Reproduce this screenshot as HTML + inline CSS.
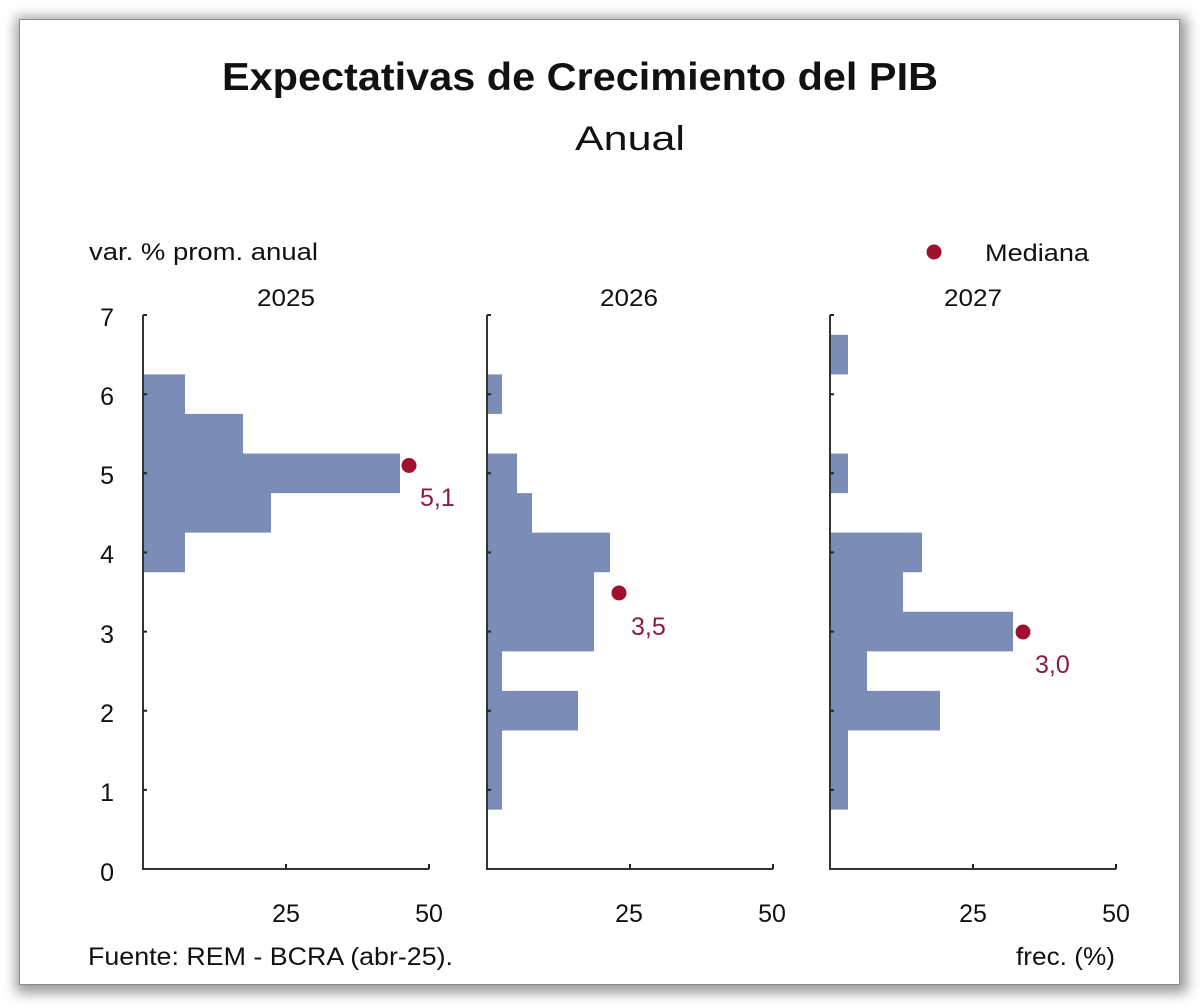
<!DOCTYPE html>
<html>
<head>
<meta charset="utf-8">
<style>
  html, body { margin:0; padding:0; background:#fff; }
  body { width:1200px; height:1007px; overflow:hidden; position:relative; }
  .frame {
    position:absolute; left:19px; top:19px; width:1159px; height:964px;
    background:#fff; border:1px solid #8c8c8c;
    box-shadow: 2px 3px 12px 5px rgba(0,0,0,0.40);
  }
  svg { position:absolute; left:0; top:0; }
  text { font-family:"Liberation Sans", Arial, sans-serif; fill:#111; }
</style>
</head>
<body>
<div class="frame"></div>
<svg width="1200" height="1007" viewBox="0 0 1200 1007" xmlns="http://www.w3.org/2000/svg">
  <!-- Title -->
  <text x="222" y="90" font-size="39" font-weight="bold" textLength="716" lengthAdjust="spacingAndGlyphs">Expectativas de Crecimiento del PIB</text>
  <text x="575" y="150" font-size="34" textLength="110" lengthAdjust="spacingAndGlyphs">Anual</text>

  <!-- Header labels -->
  <text x="89" y="260" font-size="24" textLength="229" lengthAdjust="spacingAndGlyphs">var. % prom. anual</text>
  <circle cx="934" cy="252" r="7.5" fill="#a0102e"/>
  <text x="985" y="261" font-size="24" textLength="104" lengthAdjust="spacingAndGlyphs">Mediana</text>

  <!-- Year labels -->
  <text x="286" y="306" font-size="24" text-anchor="middle" textLength="58" lengthAdjust="spacingAndGlyphs">2025</text>
  <text x="629" y="306" font-size="24" text-anchor="middle" textLength="58" lengthAdjust="spacingAndGlyphs">2026</text>
  <text x="973" y="306" font-size="24" text-anchor="middle" textLength="58" lengthAdjust="spacingAndGlyphs">2027</text>

  <!-- Y labels -->
  <g font-size="25" text-anchor="end">
    <text x="114" y="326">7</text>
    <text x="114" y="405">6</text>
    <text x="114" y="484">5</text>
    <text x="114" y="563">4</text>
    <text x="114" y="643">3</text>
    <text x="114" y="722">2</text>
    <text x="114" y="801">1</text>
    <text x="114" y="881">0</text>
  </g>

  <!-- Bars panel 1 (x0=143) -->
  <g fill="#7b8cb6">
    <path d="M143 374.4 H185 V413.9 H243 V453.5 H400 V493.1 H271 V532.6 H185 V572.2 H143 Z"/>
  </g>
  <!-- Bars panel 2 (x0=487) -->
  <g fill="#7b8cb6">
    <rect x="487" y="374.4" width="15" height="39.5"/>
    <path d="M487 453.5 H517 V493.1 H532 V532.6 H610 V572.2 H594 V651.4 H502 V690.9 H578 V730.5 H502 V809.6 H487 Z"/>
  </g>
  <!-- Bars panel 3 (x0=830) -->
  <g fill="#7b8cb6">
    <rect x="830" y="334.8" width="18" height="39.6"/>
    <rect x="830" y="453.5" width="18" height="39.6"/>
    <path d="M830 532.6 H922 V572.2 H903 V611.8 H1013 V651.4 H867 V690.9 H940 V730.5 H848 V809.6 H830 Z"/>
  </g>

  <!-- Axes -->
  <g stroke="#333" stroke-width="2" fill="none">
    <path d="M143 315 V869 H429"/>
    <path d="M487 315 V869 H773"/>
    <path d="M830 315 V869 H1116"/>
  </g>
  <!-- Ticks -->
  <g stroke="#222" stroke-width="2">
    <path d="M143 315h4 M143 394.2h4 M143 473.3h4 M143 552.4h4 M143 631.6h4 M143 710.7h4 M143 789.9h4
             M286 869v-5 M429 869v-5"/>
    <path d="M487 315h4 M487 394.2h4 M487 473.3h4 M487 552.4h4 M487 631.6h4 M487 710.7h4 M487 789.9h4
             M630 869v-5 M773 869v-5"/>
    <path d="M830 315h4 M830 394.2h4 M830 473.3h4 M830 552.4h4 M830 631.6h4 M830 710.7h4 M830 789.9h4
             M973 869v-5 M1116 869v-5"/>
  </g>

  <!-- X labels -->
  <g font-size="25" text-anchor="middle">
    <text x="286" y="922">25</text>
    <text x="429" y="922">50</text>
    <text x="629" y="922">25</text>
    <text x="772" y="922">50</text>
    <text x="973" y="922">25</text>
    <text x="1116" y="922">50</text>
  </g>

  <!-- Medians -->
  <circle cx="409" cy="465.5" r="7.5" fill="#a0102e"/>
  <circle cx="619" cy="593" r="7.5" fill="#a0102e"/>
  <circle cx="1023" cy="632" r="7.5" fill="#a0102e"/>
  <g font-size="25">
    <text x="420" y="506" style="fill:#8a1c3c">5,1</text>
    <text x="631" y="635" style="fill:#8a1c3c">3,5</text>
    <text x="1035" y="673" style="fill:#8a1c3c">3,0</text>
  </g>

  <!-- Footer -->
  <text x="88" y="965" font-size="25" textLength="365" lengthAdjust="spacingAndGlyphs">Fuente: REM - BCRA (abr-25).</text>
  <text x="1016" y="965" font-size="25" textLength="99" lengthAdjust="spacingAndGlyphs">frec. (%)</text>
</svg>
</body>
</html>
